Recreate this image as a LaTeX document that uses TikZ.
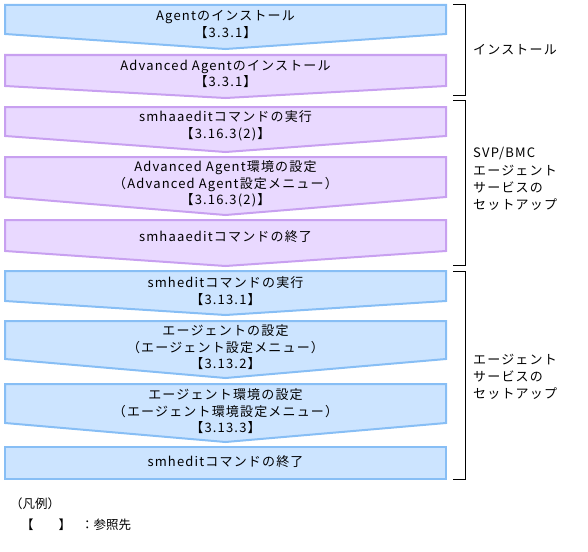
\documentclass[tikz,border=0pt]{standalone}
\usepackage{fontspec}
\setmainfont{Noto Sans CJK JP}[LetterSpace=9]
\newfontfamily\legendfont{Noto Sans CJK JP}
\definecolor{bfill}{RGB}{204,228,255}
\definecolor{bdraw}{RGB}{135,190,245}
\definecolor{pfill}{RGB}{233,217,255}
\definecolor{pdraw}{RGB}{200,160,240}
\begin{document}
\begin{tikzpicture}[x=1pt,y=-1pt,
  bshape/.style={fill=bfill,draw=bdraw,line width=2pt},
  pshape/.style={fill=pfill,draw=pdraw,line width=2pt},
  txt/.style={align=center,inner sep=0pt,font=\fontsize{13}{16.5}\selectfont},
  lbl/.style={align=left,anchor=west,inner sep=0pt,font=\fontsize{13}{17.2}\selectfont},
  leg/.style={anchor=west,inner sep=0pt,font=\legendfont\fontsize{12.5}{14}\selectfont},
  brk/.style={draw=black,line width=0.9pt}]
\useasboundingbox (0,0) rectangle (588,551);
% shapes: top, side bottom, center bottom
\newcommand{\arrshape}[4]{\path[#1] (5,#2) -- (446,#2) -- (446,#3) -- (225.5,#4) -- (5,#3) -- cycle;}
\arrshape{bshape}{5}{34}{49}
\arrshape{pshape}{55}{86}{98}
\arrshape{pshape}{107}{136}{152}
\arrshape{pshape}{157}{197}{215}
\arrshape{pshape}{220}{251}{266}
\arrshape{bshape}{271}{301}{315}
\arrshape{bshape}{321}{359}{378}
\arrshape{bshape}{384}{423}{442}
\path[bshape] (5,447) rectangle (446,479);
% texts
\node[txt] (t1) at (225.5,24.5) {Agentのインストール\\【3.3.1】};
\node[txt] (t2) at (225.5,74) {Advanced Agentのインストール\\【3.3.1】};
\node[txt] (t3) at (225.5,126) {smhaaeditコマンドの実行\\【3.16.3(2)】};
\node[txt] (t4) at (225.5,184) {Advanced Agent環境の設定\\（Advanced Agent設定メニュー）\\【3.16.3(2)】};
\node[txt] (t5) at (225.5,237) {smhaaeditコマンドの終了};
\node[txt] (t6) at (225.5,291) {smheditコマンドの実行\\【3.13.1】};
\node[txt] (t7) at (225.5,347.5) {エージェントの設定\\（エージェント設定メニュー）\\【3.13.2】};
\node[txt] (t8) at (225.5,411.5) {エージェント環境の設定\\（エージェント環境設定メニュー）\\【3.13.3】};
\node[txt] (t9) at (225.5,462) {smheditコマンドの終了};
% brackets
\coordinate (b1a) at (453,4); \coordinate (b1b) at (453,95);
\draw[brk] (b1a) -- ++(12,0) |- (b1b);
\coordinate (b2a) at (453,100); \coordinate (b2b) at (453,265);
\draw[brk] (b2a) -- ++(12,0) |- (b2b);
\coordinate (b3a) at (453,271); \coordinate (b3b) at (453,479);
\draw[brk] (b3a) -- ++(12,0) |- (b3b);
\node[lbl] (l1) at (473,50) {インストール};
\node[lbl] (l2) at (473,179) {SVP/BMC\\エージェント\\サービスの\\セットアップ};
\node[lbl] (l3) at (473,377) {エージェント\\サービスの\\セットアップ};
% legend
\node[leg] (lg1) at (10,504) {（凡例）};
\node[leg] (lg2) at (21,525) {【　　】};
\node[leg] (lg3) at (81,525) {：参照先};
\end{tikzpicture}
\end{document}
